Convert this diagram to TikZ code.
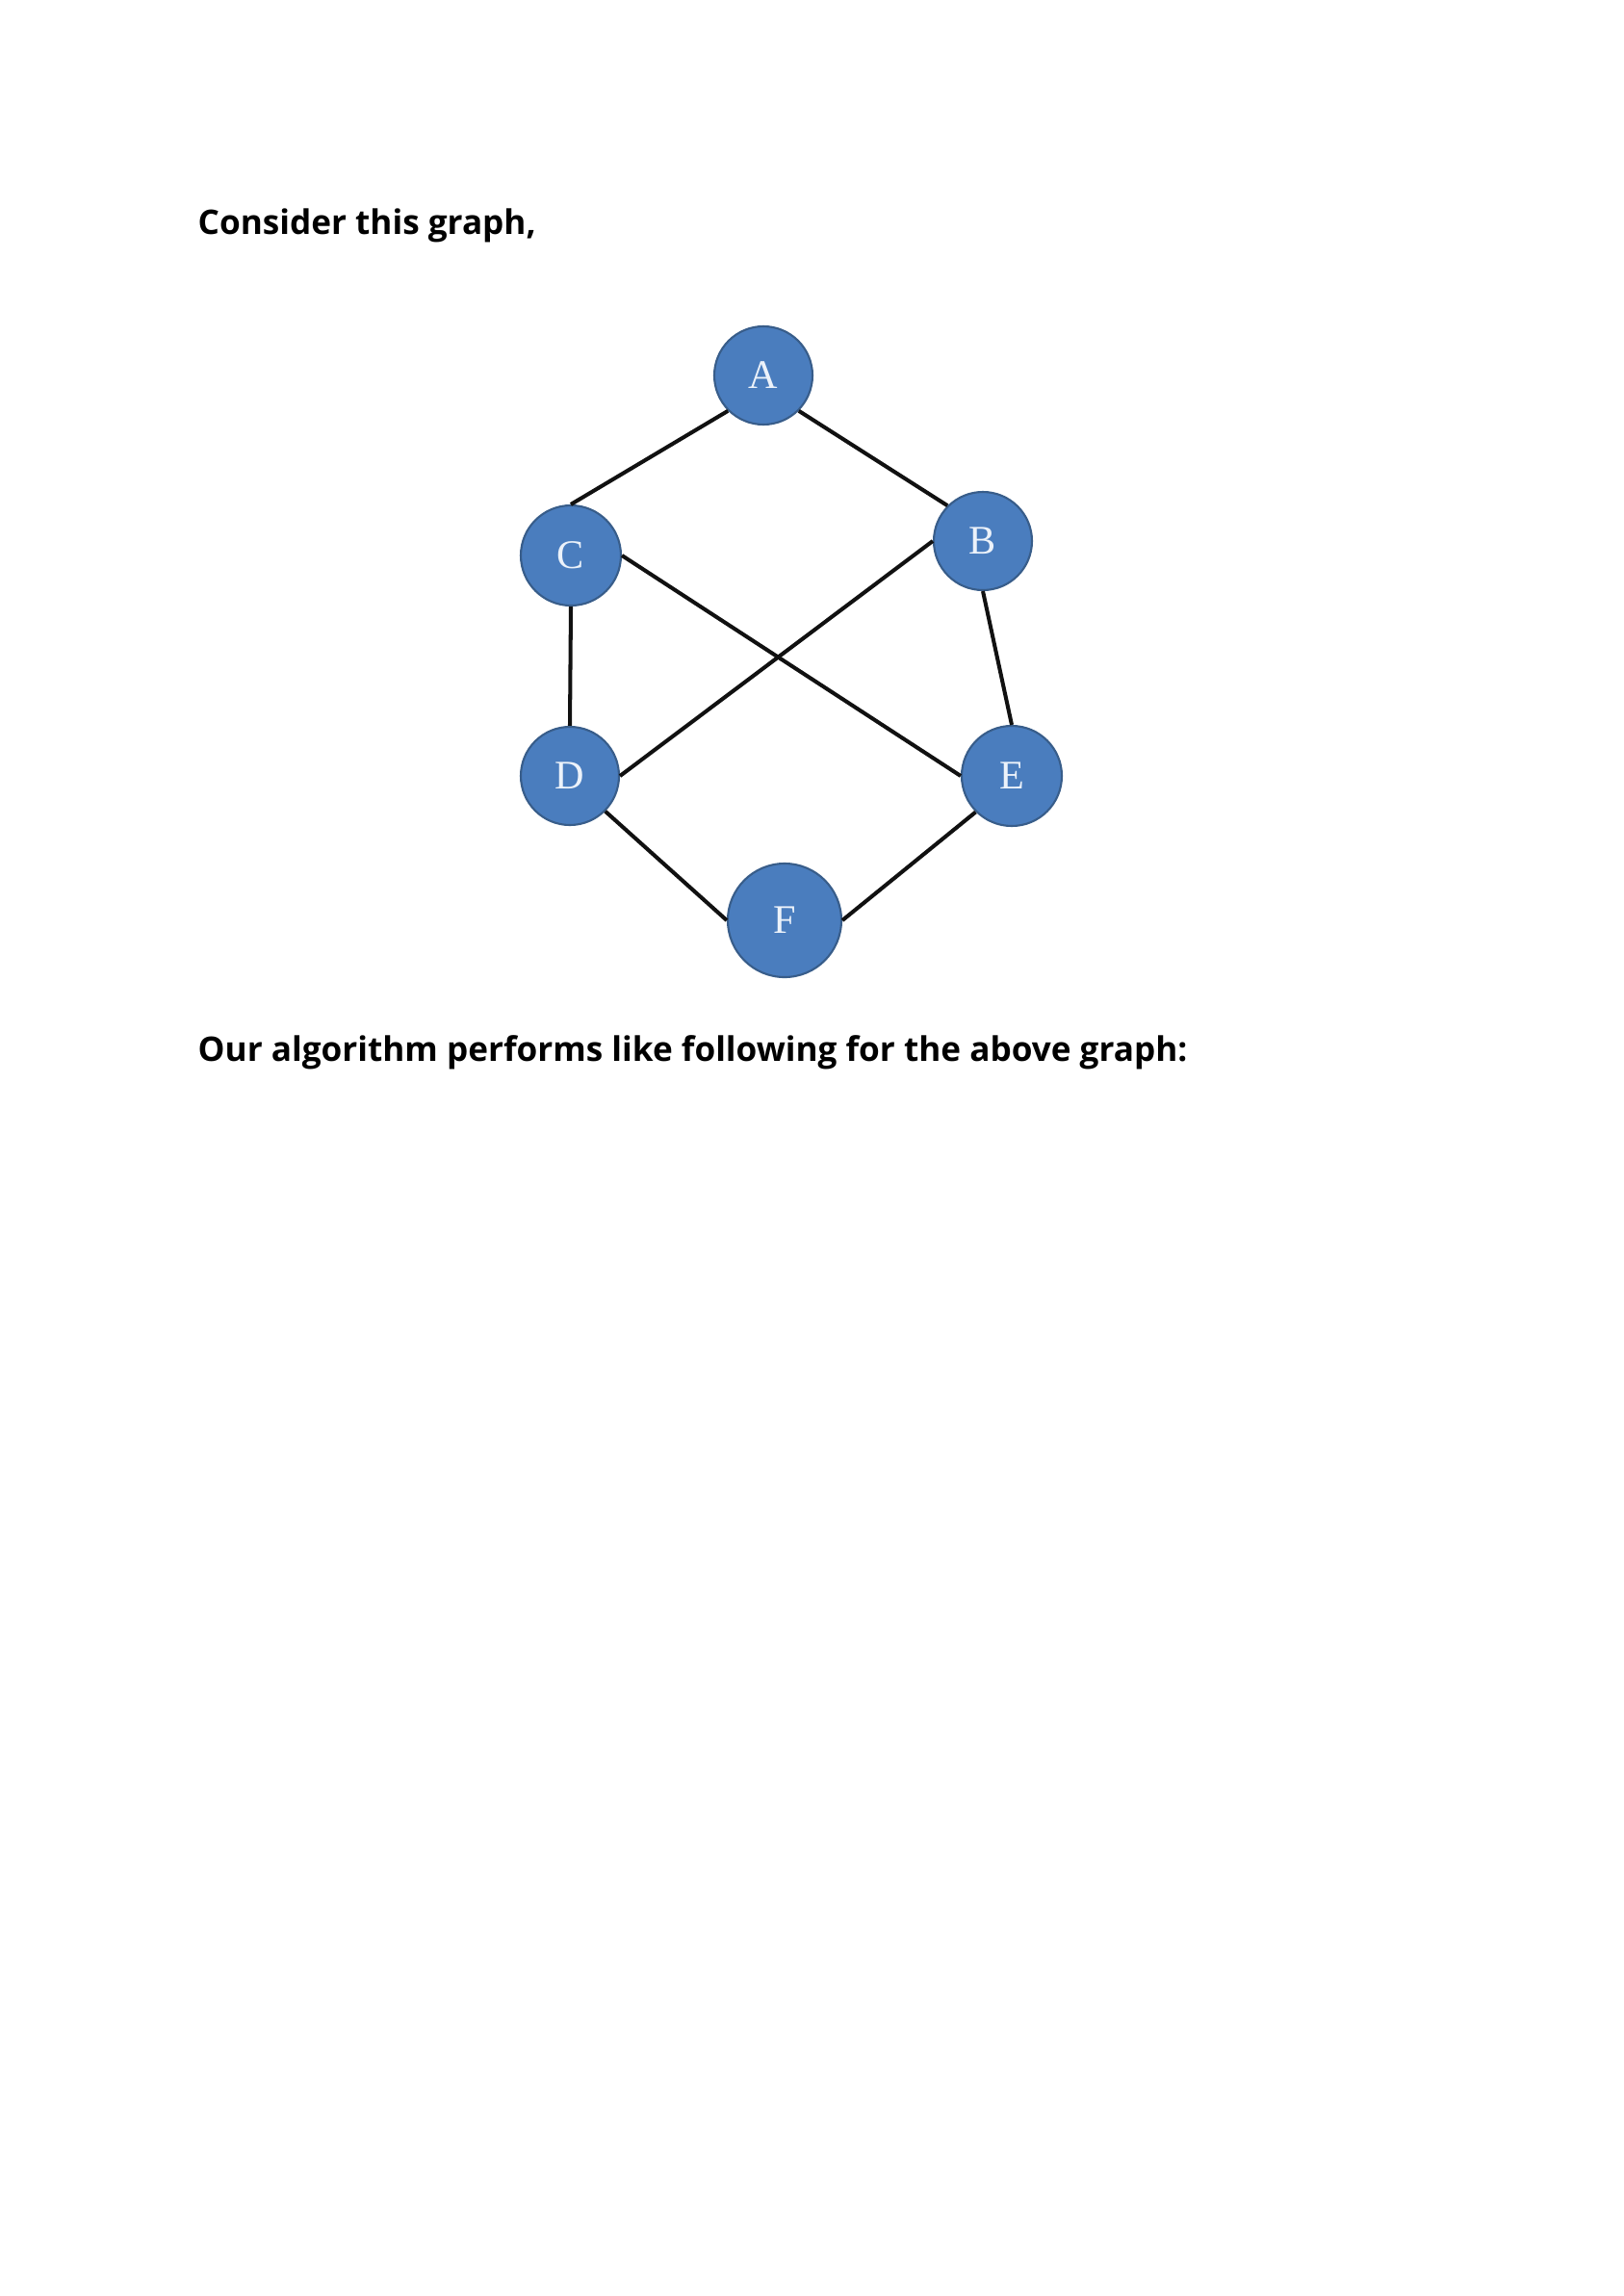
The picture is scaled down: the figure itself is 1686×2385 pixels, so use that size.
\documentclass[tikz,border=0pt]{standalone}
\usepackage{fontspec}
\newfontfamily\headfont{Open Sans}
\newfontfamily\letterfont{Liberation Serif}

\begin{document}
\begin{tikzpicture}[x=0.1mm,y=-0.1mm]
 \definecolor{v1}{RGB}{74,125,190}
 \definecolor{v2}{RGB}{56,93,138}
 \definecolor{v3}{RGB}{236,242,250}
 \definecolor{e1}{RGB}{17,17,17}
 \tikzset{
   vertex/.style={circle,inner sep=0pt,fill=v1,draw=v2,
     line width=.6pt,text=v3,font=\letterfont\fontsize{12}{12}\selectfont},
   edge/.style={draw=e1,line width=1.15pt},
   headline/.style={anchor=base west,inner sep=0pt,
     font=\headfont\bfseries\fontsize{10}{12}\selectfont}
 }
 \useasboundingbox (0,0) rectangle (1686,2385);
 \node[headline] (top) at (205,243) {Consider this graph,};
 \node[headline] (bottom) at (205,1102)
   {Our algorithm performs like following for the above graph:};
 \foreach \nm/\xp/\yp/\rr in {
   A/793/390/51, B/1021/562/51, C/593/577/52,
   D/592/806/51, E/1051/806/52, F/815/956/59
 } {
   \node[vertex,minimum size=\rr*0.2mm] (\nm) at (\xp,\yp) {\nm};
 }
 \foreach \src/\dst in {
   A.south west/C.north, A.south east/B.north west,
   C.south/D.north, C.east/E.west, B.west/D.east,
   B.south/E.north, D.south east/F.west, E.south west/F.east} {
   \path[edge] (\src) -- (\dst);
 }
\end{tikzpicture}
\end{document}
